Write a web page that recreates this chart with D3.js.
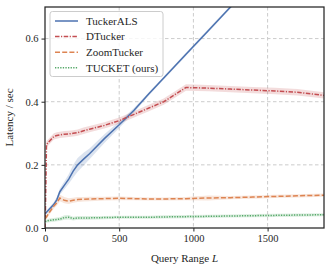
<!DOCTYPE html>
<html>
<head>
<meta charset="utf-8">
<script src="https://cdn.jsdelivr.net/npm/d3@7"></script>
<style>
	body { margin: 0; background: #fff; }
	svg { display: block; }
	svg text { font-family: "Liberation Serif", "DejaVu Serif", serif !important; }
</style>
</head>
<body>
<svg id="chart" width="332" height="272"></svg>
<script>
// query range values (shared by all series)
var queryRange = [1, 10, 30, 60, 80, 100, 130, 160, 190, 220, 260, 300, 400, 500, 600, 700, 800, 950, 1100, 1250, 1400, 1550, 1700, 1880];

var tuckerALS = [0.045, 0.05, 0.06, 0.075, 0.09, 0.115, 0.135, 0.155, 0.18, 0.2, 0.218, 0.235, 0.283, 0.327, 0.373, 0.425, 0.475, 0.55, 0.625, 0.7, 0.775, 0.85, 0.925, 1.01];
var tuckerALSErr = [0.005, 0.005, 0.006, 0.007, 0.008, 0.01, 0.012, 0.015, 0.02, 0.022, 0.02, 0.017, 0.014, 0.01, 0.007, 0.005, 0.005, 0.005, 0.005, 0.005, 0.005, 0.005, 0.005, 0.005];

var dTucker = [0.0, 0.265, 0.275, 0.29, 0.293, 0.295, 0.297, 0.298, 0.3, 0.302, 0.308, 0.313, 0.325, 0.34, 0.36, 0.38, 0.4, 0.445, 0.443, 0.44, 0.437, 0.434, 0.43, 0.42];
var dTuckerErr = [0.003, 0.01, 0.01, 0.01, 0.01, 0.01, 0.01, 0.01, 0.01, 0.01, 0.01, 0.01, 0.01, 0.01, 0.01, 0.01, 0.01, 0.01, 0.01, 0.01, 0.01, 0.01, 0.01, 0.01];

var zoomTucker = [0.03, 0.035, 0.05, 0.07, 0.08, 0.095, 0.088, 0.085, 0.088, 0.09, 0.091, 0.092, 0.093, 0.094, 0.093, 0.092, 0.092, 0.093, 0.095, 0.096, 0.098, 0.1, 0.102, 0.104];
var zoomTuckerErr = [0.005, 0.006, 0.007, 0.008, 0.009, 0.01, 0.01, 0.009, 0.008, 0.008, 0.007, 0.007, 0.006, 0.006, 0.005, 0.005, 0.005, 0.005, 0.008, 0.005, 0.005, 0.005, 0.005, 0.005];

var tucket = [0.02, 0.022, 0.024, 0.026, 0.027, 0.028, 0.033, 0.034, 0.03, 0.032, 0.032, 0.032, 0.033, 0.034, 0.034, 0.034, 0.035, 0.036, 0.037, 0.038, 0.039, 0.04, 0.041, 0.042];
var tucketErr = [0.005, 0.005, 0.006, 0.006, 0.006, 0.006, 0.007, 0.007, 0.006, 0.006, 0.006, 0.006, 0.005, 0.005, 0.005, 0.005, 0.005, 0.005, 0.005, 0.005, 0.005, 0.005, 0.005, 0.005];

var seriesNames = ["TuckerALS", "DTucker", "ZoomTucker", "TUCKET (ours)"];
var xTicks = [0, 500, 1000, 1500];
var yTicks = [0.0, 0.2, 0.4, 0.6];

var series = [
	{ name: seriesNames[0], y: tuckerALS, err: tuckerALSErr, color: "#4c72b0", dash: null },
	{ name: seriesNames[1], y: dTucker, err: dTuckerErr, color: "#c44e52", dash: "4.5,1.5,1.2,1.5" },
	{ name: seriesNames[2], y: zoomTucker, err: zoomTuckerErr, color: "#dd8452", dash: "5,2.2" },
	{ name: seriesNames[3], y: tucket, err: tucketErr, color: "#55a868", dash: "1.3,1.3" }
];

var svg = d3.select("#chart"),
	margin = { left: 45, right: 8, top: 7, bottom: 44 },
	width = +svg.attr("width") - margin.left - margin.right,
	height = +svg.attr("height") - margin.top - margin.bottom;

var x = d3.scaleLinear().domain([0, 1880]).range([0, width]);
var y = d3.scaleLinear().domain([0, 0.7]).range([height, 0]);

var g = svg.append("g")
	.attr("transform", "translate(" + margin.left + "," + margin.top + ")");

svg.append("defs").append("clipPath")
	.attr("id", "plotclip")
	.append("rect")
	.attr("width", width)
	.attr("height", height);

// grid
g.append("g").selectAll("line")
	.data(xTicks.slice(1))
	.enter().append("line")
	.attr("x1", function(d) { return x(d); })
	.attr("x2", function(d) { return x(d); })
	.attr("y1", 0).attr("y2", height)
	.attr("stroke", "#cccccc").attr("stroke-width", 1)
	.attr("stroke-dasharray", "3.5,2.5");

g.append("g").selectAll("line")
	.data(yTicks.slice(1))
	.enter().append("line")
	.attr("y1", function(d) { return y(d); })
	.attr("y2", function(d) { return y(d); })
	.attr("x1", 0).attr("x2", width)
	.attr("stroke", "#cccccc").attr("stroke-width", 1)
	.attr("stroke-dasharray", "3.5,2.5");

var plot = g.append("g").attr("clip-path", "url(#plotclip)");

var area = d3.area()
	.x(function(d) { return x(d.x); })
	.y0(function(d) { return y(d.y - d.e); })
	.y1(function(d) { return y(d.y + d.e); });

var line = d3.line()
	.x(function(d) { return x(d.x); })
	.y(function(d) { return y(d.y); });

series.forEach(function(s) {
	var pts = queryRange.map(function(q, i) { return { x: q, y: s.y[i], e: s.err[i] }; });
	plot.append("path")
		.datum(pts)
		.attr("d", area)
		.attr("fill", s.color)
		.attr("fill-opacity", 0.2);
	s.pts = pts;
});

series.forEach(function(s) {
	plot.append("path")
		.datum(s.pts)
		.attr("d", line)
		.attr("fill", "none")
		.attr("stroke", s.color)
		.attr("stroke-width", 1.5)
		.attr("stroke-dasharray", s.dash);
});

// axes
var xAxis = g.append("g")
	.attr("transform", "translate(0," + height + ")")
	.call(d3.axisBottom(x).tickValues(xTicks).tickSize(3.5).tickPadding(3).tickFormat(d3.format("d")));

var yAxis = g.append("g")
	.call(d3.axisLeft(y).tickValues(yTicks).tickSize(3.5).tickPadding(3).tickFormat(d3.format(".1f")));

[xAxis, yAxis].forEach(function(ax) {
	ax.attr("font-family", null).attr("font-size", null);
	ax.select(".domain").remove();
	ax.selectAll(".tick line").attr("stroke", "#262626").attr("stroke-width", 1);
	ax.selectAll(".tick text")
		.attr("fill", "#262626")
		.attr("font-family", "Liberation Serif")
		.style("font-size", "10.5px");
});

// frame
g.append("rect")
	.attr("width", width)
	.attr("height", height)
	.attr("fill", "none")
	.attr("stroke", "#262626")
	.attr("stroke-width", 1.25);

// axis labels
svg.append("text")
	.attr("x", margin.left + width / 2)
	.attr("y", 262)
	.attr("text-anchor", "middle")
	.attr("fill", "#262626")
	.attr("font-family", "Liberation Serif")
	.style("font-size", "11px")
	.html('Query Range <tspan font-style="italic">L</tspan>');

svg.append("text")
	.attr("transform", "translate(13," + (margin.top + height / 2) + ") rotate(-90)")
	.attr("text-anchor", "middle")
	.attr("fill", "#262626")
	.attr("font-family", "Liberation Serif")
	.style("font-size", "11px")
	.text("Latency / sec");

// legend
var legend = g.append("g").attr("transform", "translate(5,4.5)");
legend.append("rect")
	.attr("width", 113)
	.attr("height", 65)
	.attr("rx", 2.5)
	.attr("fill", "#fff")
	.attr("fill-opacity", 0.8)
	.attr("stroke", "#cccccc")
	.attr("stroke-width", 1);

var items = legend.selectAll("g.item")
	.data(series)
	.enter().append("g")
	.attr("class", "item")
	.attr("transform", function(d, i) { return "translate(0," + (9.5 + i * 15.6) + ")"; });

items.append("line")
	.attr("x1", 5).attr("x2", 28)
	.attr("stroke", function(d) { return d.color; })
	.attr("stroke-width", 1.5)
	.attr("stroke-dasharray", function(d) { return d.dash; });

items.append("text")
	.attr("x", 36)
	.attr("dy", "0.35em")
	.attr("fill", "#262626")
	.attr("font-family", "Liberation Serif")
	.style("font-size", "11px")
	.text(function(d) { return d.name; });
</script>
</body>
</html>
